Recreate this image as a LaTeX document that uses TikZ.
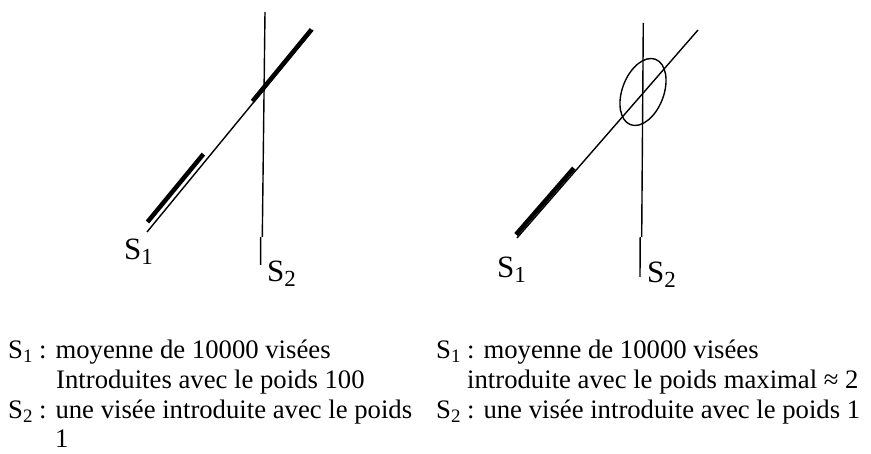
\documentclass[tikz,border=0pt]{standalone}
\usepackage{fontspec}
\setmainfont{Liberation Serif}
\newcommand\Bsub[1]{S\raisebox{-4pt}{\fontsize{19}{19}\selectfont #1}}
\newcommand\Lsub[1]{S\raisebox{-5pt}{\fontsize{23}{23}\selectfont #1}}
\tikzset{
  thinline/.style={line width=1.4pt, line cap=butt},
  thickline/.style={line width=4.5pt, line cap=butt},
  body/.style={inner sep=0pt, anchor=base west, font=\fontsize{26.7}{30}\selectfont},
  lab/.style={inner sep=0pt, anchor=base west, font=\fontsize{31}{34}\selectfont},
}
\begin{document}
\begin{tikzpicture}[x=1pt,y=-1pt]
\useasboundingbox (0,0) rectangle (871,454);
% ---------- left diagram ----------
\coordinate (la) at (147,232);
\coordinate (lb) at (313,30);
\coordinate (lta) at (147.5,222);
\coordinate (ltb) at (203.4,154.1);
\coordinate (lua) at (252.5,101.3);
\coordinate (lub) at (311.5,29.5);
\coordinate (lv1) at (265,12);
\coordinate (lv2) at (262.3,237);
\coordinate (lv3) at (260.7,237);
\coordinate (lv4) at (260.6,265);
\draw[thinline] (la) -- (lb);
\draw[thickline] (lta) -- (ltb);
\draw[thickline] (lua) -- (lub);
\draw[thinline] (lv1) -- (lv2);
\draw[thinline] (lv3) -- (lv4);
\node[lab] (ls1) at (124,260) {\Lsub{1}};
\node[lab] (ls2) at (267,282) {\Lsub{2}};
% ---------- right diagram ----------
\coordinate (ra) at (517,238);
\coordinate (rb) at (698,30);
\coordinate (rta) at (516,234.5);
\coordinate (rtb) at (573.8,168.1);
\coordinate (rv1) at (643.3,23);
\coordinate (rv2) at (641.7,237);
\coordinate (rv3) at (640.2,237);
\coordinate (rv4) at (640,277);
\coordinate (rc) at (643,92);
\draw[thinline] (ra) -- (rb);
\draw[thickline] (rta) -- (rtb);
\draw[thinline] (rv1) -- (rv2);
\draw[thinline] (rv3) -- (rv4);
\draw[line width=1.4pt, rotate around={-21:(rc)}] (rc) ellipse [x radius=20.7, y radius=35];
\node[lab] (rs1) at (497,278) {\Lsub{1}};
\node[lab] (rs2) at (647,283) {\Lsub{2}};
% ---------- legend ----------
\node[body] (t1) at (8,359) {\Bsub{1} : moyenne de 10000 visées};
\node[body] (t2) at (56,389) {Introduites avec le poids 100};
\node[body] (t3) at (8,419) {\Bsub{2} : une visée introduite avec le poids};
\node[body] (t4) at (55,448) {1};
\node[body] (u1) at (436,359) {\Bsub{1} : moyenne de 10000 visées};
\node[body] (u2) at (467,389) {introduite avec le poids maximal ≈ 2};
\node[body] (u3) at (436,419) {\Bsub{2} : une visée introduite avec le poids 1};
\end{tikzpicture}
\end{document}
